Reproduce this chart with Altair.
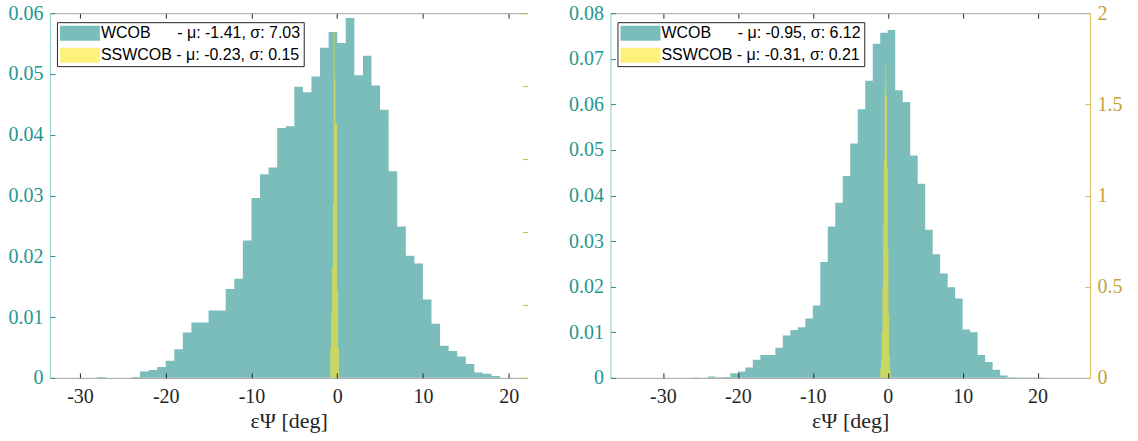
import altair as alt
import pandas as pd

# ---------------- data ----------------
WCOB_BIN = 1.0     # deg
SSWCOB_BIN = 0.1   # deg

# Left panel - WCOB histogram (bin starts, pdf values)
left_wcob_start = list(range(-28, 19))
left_wcob_val = [0.00016, 0.00003, 0.00003, 0.00003, 0.00016, 0.00104, 0.0013, 0.0018,
                 0.0028, 0.0047, 0.00745, 0.0091, 0.0091, 0.0111, 0.0111, 0.0146,
                 0.0163, 0.0226, 0.0296, 0.0335, 0.0346, 0.0411, 0.0414, 0.0479,
                 0.047, 0.0496, 0.0543, 0.0569, 0.0551, 0.0592, 0.0498, 0.053,
                 0.0481, 0.0441, 0.034, 0.0249, 0.0201, 0.0188, 0.0129, 0.0089,
                 0.0053, 0.0044, 0.0035, 0.0023, 0.0009, 0.00066, 0.0003]

# Left panel - SSWCOB histogram (right axis)
left_ss_start = [-0.8, -0.7, -0.6, -0.5, -0.4, -0.3, -0.2, -0.1, 0.0, 0.1]
left_ss_val = [0.21, 0.45, 0.76, 1.2, 2.37, 2.05, 1.74, 1.74, 0.6, 0.21]

# Right panel - WCOB histogram
right_wcob_start = list(range(-26, 21))
right_wcob_val = [0.0001, 0.00005, 0.0003, 0.00015, 0.0002, 0.001, 0.0014, 0.0023,
                  0.004, 0.005, 0.005, 0.0066, 0.0093, 0.0105, 0.0111, 0.013,
                  0.0159, 0.0254, 0.0332, 0.0384, 0.0443, 0.0514, 0.0589, 0.0652,
                  0.0733, 0.0757, 0.0763, 0.0631, 0.0605, 0.0488, 0.0426, 0.0325,
                  0.0271, 0.0229, 0.0199, 0.0174, 0.0106, 0.01, 0.005, 0.0035,
                  0.0018, 0.0005, 0.00015, 0.0001, 0.0001, 0.0001, 0.0001]

# Right panel - SSWCOB histogram (right axis)
right_ss_start = [-1.0, -0.9, -0.8, -0.7, -0.6, -0.5, -0.4, -0.3, -0.2, -0.1, 0.0, 0.1, 0.2, 0.3]
right_ss_val = [0.05, 0.1, 0.25, 0.5, 0.85, 1.2, 1.6, 1.73, 1.55, 1.15, 0.7, 0.35, 0.12, 0.04]

left_labels = ["WCOB\u00a0\u00a0\u00a0\u00a0\u00a0\u00a0- \u03bc: -1.41, \u03c3: 7.03",
               "SSWCOB - \u03bc: -0.23, \u03c3: 0.15"]
right_labels = ["WCOB\u00a0\u00a0\u00a0\u00a0\u00a0\u00a0- \u03bc: -0.95, \u03c3: 6.12",
                "SSWCOB - \u03bc: -0.31, \u03c3: 0.21"]

x_ticks = [-30, -20, -10, 0, 10, 20]
left_teal_ticks = [0, 0.01, 0.02, 0.03, 0.04, 0.05, 0.06]
right_teal_ticks = [0, 0.01, 0.02, 0.03, 0.04, 0.05, 0.06, 0.07, 0.08]
left_gold_ticks = [0, 0.5, 1, 1.5, 2, 2.5]
right_gold_ticks = [0, 0.5, 1, 1.5, 2]

left_xdom = [-33.5, 22.2]
right_xdom = [-37.0, 27.0]

# ---------------- styles ----------------
TEAL = "#21918c"
YELLOW = "#fde725"
TEAL_LABEL = "#1f968f"
TEAL_LINE = "#8ccbc8"
GOLD_LABEL = "#c4a238"
GOLD_LINE = "#d8bd5c"
GRAY = "#a3a3a3"
DARK = "#262626"
SERIF = "Liberation Serif, DejaVu Serif, serif"
SANS = "Liberation Sans, Arial, sans-serif"
H = 365


def step_frame(starts, vals, width, label):
    # histogram outline as step-after points: every bin start plus the last edge
    xs = list(starts) + [starts[-1] + width]
    vs = list(vals) + [vals[-1]]
    return pd.DataFrame({"x": xs, "v": vs, "base": 0.0, "series": label})


def panel(wcob_start, wcob_val, ss_start, ss_val, labels, xdom, width,
          teal_ticks, gold_ticks, gold_labels):
    teal_df = step_frame(wcob_start, wcob_val, WCOB_BIN, labels[0])
    ss_df = step_frame(ss_start, ss_val, SSWCOB_BIN, labels[1])
    xscale = alt.Scale(domain=xdom, nice=False, zero=False)
    tscale = alt.Scale(domain=[teal_ticks[0], teal_ticks[-1]], nice=False)
    gscale = alt.Scale(domain=[gold_ticks[0], gold_ticks[-1]], nice=False)
    legend = alt.Legend(
        title=None, orient="none", legendX=7, legendY=9,
        fillColor="white", strokeColor=DARK, padding=3, cornerRadius=0,
        symbolType="M-2.667,-1L2.667,-1L2.667,1L-2.667,1Z", symbolSize=225,
        symbolStrokeWidth=0, symbolOpacity=0.6, symbolOffset=12, labelOffset=13,
        rowPadding=6, labelFont=SANS, labelFontSize=16, labelColor="black",
        labelLimit=400)
    color = alt.Color("series:N", scale=alt.Scale(domain=labels, range=[TEAL, YELLOW]),
                      legend=legend)

    l1 = alt.Chart(teal_df).mark_area(opacity=0.6, interpolate="step-after").encode(
        x=alt.X("x:Q", scale=xscale, axis=alt.Axis(
            orient="bottom", values=x_ticks, labelExpr="'' + datum.value",
            ticks=False, tickSize=0, domain=True, domainColor=GRAY, domainWidth=1,
            labelFont=SERIF, labelFontSize=20, labelColor=DARK, labelPadding=9,
            title="\u03b5\u03a8 [deg]", titleFont=SERIF, titleFontSize=22,
            titleFontWeight="normal", titleColor=DARK, titlePadding=4,
            grid=False, zindex=1)),
        y=alt.Y("v:Q", scale=tscale, axis=alt.Axis(
            orient="left", values=teal_ticks, labelExpr="'' + datum.value",
            ticks=False, tickSize=0, domain=True, domainColor=TEAL_LINE,
            labelColor=TEAL_LABEL, labelFont=SERIF, labelFontSize=20,
            labelPadding=7, title=None, grid=False)),
        y2="base:Q",
        color=color,
    )

    if gold_labels:
        gold_axis = alt.Axis(
            orient="right", values=gold_ticks, labelExpr="'' + datum.value",
            ticks=False, tickSize=0, domain=True, domainColor=GOLD_LINE,
            labelColor=GOLD_LABEL, labelFont=SERIF, labelFontSize=20,
            labelPadding=7, title=None, grid=False)
    else:
        gold_axis = None

    l2 = alt.Chart(ss_df).mark_area(opacity=0.6, interpolate="step-after").encode(
        x=alt.X("x:Q", scale=xscale, axis=None),
        y=alt.Y("v:Q", scale=gscale, axis=gold_axis),
        y2="base:Q",
        color=color,
    )

    # invisible helper layers that carry inward ticks and the top border
    l3 = alt.Chart(teal_df).mark_area(opacity=0).encode(
        x=alt.X("x:Q", scale=xscale, axis=alt.Axis(
            orient="top", offset=-H, values=x_ticks, labels=False, domain=False,
            ticks=True, tickSize=5, tickColor=DARK, title=None, grid=False, zindex=1)),
        y=alt.Y("v:Q", scale=tscale, axis=alt.Axis(
            orient="right", offset=-width, values=teal_ticks, labels=False,
            domain=False, ticks=True, tickSize=5, tickColor=TEAL, title=None,
            grid=False, zindex=1)),
        y2="base:Q",
    )
    l4 = alt.Chart(ss_df).mark_area(opacity=0).encode(
        x=alt.X("x:Q", scale=xscale, axis=alt.Axis(
            orient="bottom", offset=-H, values=x_ticks, labels=False, domain=True,
            domainColor=GRAY, ticks=True, tickSize=5, tickColor=DARK, title=None,
            grid=False, zindex=1)),
        y=alt.Y("v:Q", scale=gscale, axis=alt.Axis(
            orient="left", offset=-width, values=gold_ticks, labels=False,
            domain=False, ticks=True, tickSize=5, tickColor="#d4b44a", title=None,
            grid=False, zindex=1)),
        y2="base:Q",
    )

    return alt.layer(l1, l2, l3, l4).resolve_scale(
        y="independent").resolve_axis(x="independent", y="independent").properties(
        width=width, height=H)


left = panel(left_wcob_start, left_wcob_val, left_ss_start, left_ss_val, left_labels,
             left_xdom, 478, left_teal_ticks, left_gold_ticks, False)
right = panel(right_wcob_start, right_wcob_val, right_ss_start, right_ss_val, right_labels,
              right_xdom, 480, right_teal_ticks, right_gold_ticks, True)

chart = alt.hconcat(left, right, spacing=40).resolve_scale(
    x="independent", y="independent", color="independent"
).properties(
    padding={"left": 8, "top": 3, "right": 16, "bottom": 5},
    background="white",
).configure_view(stroke=None)

chart.save("out.html", embed_options={"renderer": "svg", "actions": False})
